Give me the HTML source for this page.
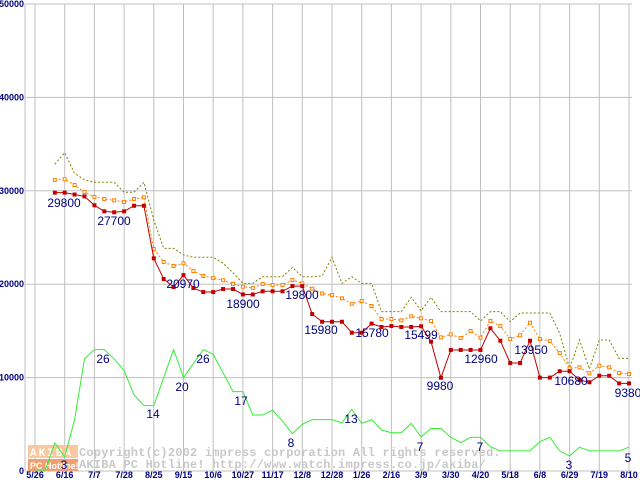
<!DOCTYPE html>
<html><head><meta charset="utf-8"><style>
html,body{margin:0;padding:0;background:#fff;}
svg{display:block;}
</style></head><body>
<svg id="chart" width="640" height="480" xmlns="http://www.w3.org/2000/svg" font-family="Liberation Sans, sans-serif">
</svg>
<script>
const xLabels=["5/26","6/16","7/7","7/28","8/25","9/15","10/6","10/27","11/17","12/8","12/28","1/26","2/16","3/9","3/30","4/20","5/18","6/8","6/29","7/19","8/10"];
const yTicks=[0,10000,20000,30000,40000,50000];
const greenVals=[0,0,6,3,11,24,26,26,24,21.5,16.3,14,14,20,26,20,23,26,25,21,17,17,12,12,13,10.7,8,10,11,11,11,10.3,13.2,10.2,11,8.8,8.2,8.2,10.2,7.3,9.1,9.1,7.2,6.1,7.2,7.2,5.2,4.3,4.3,4.3,4.3,6.3,7.2,4.3,3.2,5.1,4.3,4.3,4.3,4.3,5.1];
const minVals=[null,null,29800,29800,29600,29400,28450,27800,27700,27800,28400,28400,22770,20560,19700,20970,19590,19160,19160,19480,19480,18900,18900,19240,19240,19240,19800,19800,16800,15980,15980,15980,14810,14800,15780,15420,15520,15420,15420,15499,13850,9980,12960,12960,12960,12960,15280,13950,11560,11560,13950,10000,10000,10680,10680,9740,9500,10200,10200,9380,9380];
const avgVals=[null,null,31150,31230,30620,29870,29340,29120,28980,28800,29120,29300,23770,22380,21950,22240,21410,20880,20660,20420,20020,19730,19590,20020,19910,19910,20450,20090,19520,19000,18840,18490,17910,18200,17670,16270,16270,16130,16560,16350,16060,14310,14630,14240,14990,14270,16060,15520,14130,14530,15880,14130,13920,12630,11000,11100,10460,11270,11100,10490,10390];
const maxVals=[null,null,32840,34080,31870,31160,30910,30910,30910,29840,29840,30910,26870,23840,23840,23130,22880,22880,22880,22240,21230,20090,20090,20800,20800,20800,21810,20800,20800,20880,22880,20090,20800,20090,20090,17060,17060,17060,18600,17160,18600,17060,17060,17060,17060,16060,17060,17060,15990,16920,16920,16920,16920,14740,11000,14030,10920,14030,14030,12060,12060];
const priceLabels=[["29800",64,207],["27700",114,225],["20970",183,288],["18900",243,308],["19800",302,299],["15980",321,334],["15780",372,337],["15499",421,339],["9980",440,390],["12960",481,363],["13950",531,354],["10680",571,385],["9380",628,397]];
const countLabels=[["26",103,363],["14",153,418],["20",182,391],["26",203,363],["17",241,405],["8",291,447],["13",351,423],["7",420,451],["7",480,451],["3",64,469],["3",569,469],["5",628,462]];

const NS="http://www.w3.org/2000/svg";
const svg=document.getElementById('chart');
const X0=35,DX=9.9,Y0=471,YS=0.00934;
const xi=i=>X0+i*DX;
const yv=v=>Y0-v*YS;
function mk(t,a,p){const e=document.createElementNS(NS,t);for(const k in a)e.setAttribute(k,a[k]);(p||svg).appendChild(e);return e;}

const grid=mk('g',{});


yTicks.forEach(v=>{
  const l=mk('line',{x1:25,x2:632,y1:yv(v),y2:yv(v),stroke:'#c0c0c0','stroke-width':1},grid);
  
  
  const t=mk('text',{x:24,y:yv(v)+3,'text-anchor':'end','font-size':9,'font-weight':'bold',fill:'#000080'});
  t.textContent=v;
  
  
});
xLabels.forEach((s,k)=>{
  const x=xi(k*3);
  const l=mk('line',{x1:x,x2:x,y1:4,y2:471,stroke:'#c0c0c0','stroke-width':1},grid);
  
  
  const t=mk('text',{x:x,y:478,'text-anchor':'middle','font-size':9,'font-weight':'bold',fill:'#000080'});
  t.textContent=s;
  
  
});
const ax=mk('line',{x1:25,x2:25,y1:4,y2:471,stroke:'#c0c0c0'});



// watermark
const wm=mk('g',{});


mk('rect',{x:28,y:445,width:50,height:13,fill:'#f8c8a0'},wm);
mk('rect',{x:28,y:459,width:50,height:12,fill:'#f0a070'},wm);
const w1=mk('text',{x:30,y:456,'font-size':11,'font-weight':'bold',fill:'#fff','font-family':'Liberation Mono, monospace','letter-spacing':2},wm);w1.textContent='AKIBA';
const w2=mk('text',{x:30,y:469,'font-size':9,'font-weight':'bold',fill:'#fff'},wm);w2.textContent='PC Hotline!';
const c1=mk('text',{x:79,y:456,'font-size':12,'font-weight':'bold',fill:'#c8c8c8','font-family':'Liberation Mono, monospace','letter-spacing':0.2},wm);c1.textContent='Copyright(c)2002 impress corporation All rights reserved.';
const c2=mk('text',{x:79,y:468,'font-size':12,'font-weight':'bold',fill:'#c8c8c8','font-family':'Liberation Mono, monospace','letter-spacing':0.2},wm);c2.textContent='AKIBA PC Hotline!  http://www.watch.impress.co.jp/akiba/';

function pts(arr,sc){const r=[];arr.forEach((v,i)=>{if(v!==null)r.push([xi(i),yv(v*sc)]);});return r;}
function line(arr,sc,stroke,dash,name){
  const p=mk('polyline',{points:pts(arr,sc).map(q=>q.join(',')).join(' '),fill:'none',stroke:stroke,'stroke-width':1});
  if(dash)p.setAttribute('stroke-dasharray',dash);
  
  
}
line(greenVals,500,'#33ee33',null,'shop-count-line');
line(maxVals,1,'#808000','2,2','max-price-line');
line(avgVals,1,'#ff8000','2,2','avg-price-line');
pts(avgVals,1).forEach(q=>{
  const r=mk('rect',{x:q[0]-1.5,y:q[1]-1.5,width:3,height:3,fill:'#fff',stroke:'#ff8000','stroke-width':1});
  
  
});
line(minVals,1,'#c00000',null,'min-price-line');
pts(minVals,1).forEach(q=>{
  const r=mk('rect',{x:q[0]-2,y:q[1]-2,width:4,height:4,fill:'#c00000'});
  
  
});
priceLabels.concat(countLabels).forEach(d=>{
  const t=mk('text',{x:d[1],y:d[2],'text-anchor':'middle','font-size':12,fill:'#000080'});
  t.textContent=d[0];
  
  
});
</script>
</body></html>
